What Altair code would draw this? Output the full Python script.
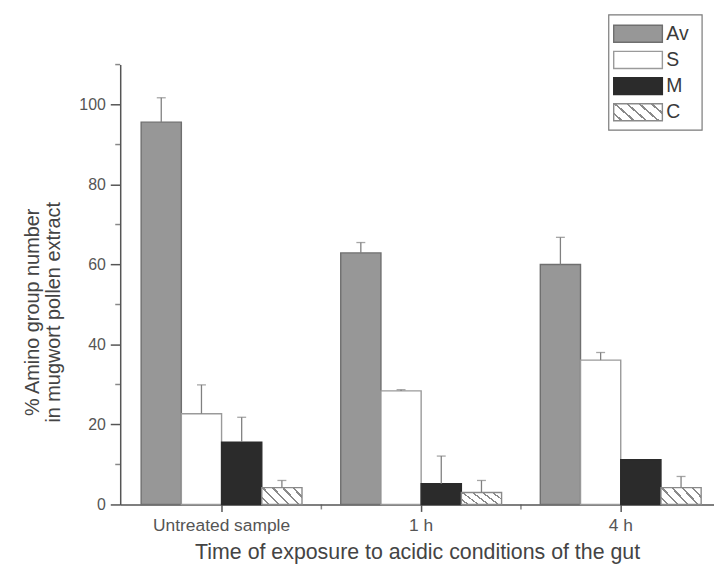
import altair as alt
import pandas as pd

# ---- data ----
groups = ["Untreated sample", "1 h", "4 h"]
series = ["Av", "S", "M", "C"]
av_vals = [95.6, 62.9, 60.0]
av_err = [101.7, 65.5, 66.8]
s_vals = [22.7, 28.4, 36.1]
s_err = [29.9, 28.7, 38.0]
m_vals = [15.6, 5.2, 11.2]
m_err = [21.8, 12.1, 11.2]
c_vals = [4.2, 3.0, 4.2]
c_err = [6.0, 6.0, 7.0]
y_major_ticks = [0, 20, 40, 60, 80, 100]
y_minor_ticks = [10, 30, 50, 70, 90, 110]

values = {"Av": av_vals, "S": s_vals, "M": m_vals, "C": c_vals}
errs = {"Av": av_err, "S": s_err, "M": m_err, "C": c_err}
rows = []
for s in series:
    for g, v, e in zip(groups, values[s], errs[s]):
        rows.append({"group": g, "series": s, "value": v, "err": e})
df = pd.DataFrame(rows)
legend_df = pd.DataFrame({"series": series, "idx": list(range(len(series)))})
bound_df = pd.DataFrame({"group": groups[:-1]})
minor_df = pd.DataFrame({"value": y_minor_ticks})

# ---- styling ----
FONT = "Liberation Sans, Arial, Helvetica, sans-serif"
W, H = 598, 443
AXIS_COL = "#555555"

# diagonal hatch approximated by a hard-stop linear gradient
n_str = 6
frac = 0.22
stops = []
for k in range(n_str):
    a = k / n_str
    b = (k + 1 - frac) / n_str
    c = (k + 1) / n_str
    stops += [
        {"offset": a, "color": "#ffffff"},
        {"offset": b, "color": "#ffffff"},
        {"offset": b, "color": "#8a8a8a"},
        {"offset": c, "color": "#8a8a8a"},
    ]
hatch = {"gradient": "linear", "x1": -0.15, "y1": 0.76, "x2": 1.15, "y2": 0.24,
         "stops": stops}

fill_scale = alt.Scale(domain=series, range=["#979797", "#ffffff", "#2b2b2b", "#ffffff"])
stroke_scale = alt.Scale(domain=series, range=["#6f6f6f", "#9a9a9a", "#2b2b2b", "#8a8a8a"])
fill_enc = alt.condition("datum.series === 'C'", alt.value(hatch),
                         alt.Fill("series:N", scale=fill_scale, legend=None))
stroke_enc = alt.Stroke("series:N", scale=stroke_scale, legend=None)

x_scale = alt.Scale(domain=groups, paddingInner=0.194, paddingOuter=0.0846, align=0.62)
x_axis = alt.Axis(title="Time of exposure to acidic conditions of the gut",
                  labelAngle=0, tickSize=7, labelPadding=5, titlePadding=8,
                  labelFontSize=17.5, titleFontSize=21.5, titleFontWeight="normal",
                  labelColor=AXIS_COL, titleColor="#444444", grid=False,
                  domainColor=AXIS_COL, tickColor=AXIS_COL, domainWidth=1.5, tickWidth=1.5,
                  labelFont=FONT, titleFont=FONT)
x_enc = alt.X("group:N", sort=groups, scale=x_scale, axis=x_axis)
xoff_enc = alt.XOffset("series:N", sort=series, scale=alt.Scale(domain=series, paddingInner=0, paddingOuter=0))

y_axis = alt.Axis(title=["% Amino group number", "in mugwort pollen extract"],
                  values=y_major_ticks, tickSize=10,
                  labelPadding=5, grid=False,
                  labelFontSize=16, titleFontSize=20, titleFontWeight="normal",
                  titleLineHeight=21, titleX=-78, titleY=249,
                  labelColor=AXIS_COL, titleColor="#444444",
                  domainColor=AXIS_COL, tickColor=AXIS_COL, domainWidth=1.5, tickWidth=1.5,
                  labelFont=FONT, titleFont=FONT)
y_scale = alt.Scale(domain=[0, 110], nice=False)
y_enc = alt.Y("value:Q", scale=y_scale, axis=y_axis)

base = alt.Chart(df)

bars = base.mark_bar(strokeWidth=1.4).encode(
    x=x_enc, xOffset=xoff_enc, y=y_enc, fill=fill_enc, stroke=stroke_enc,
)

err_rules = base.transform_filter("datum.err > datum.value").mark_rule(
    color="#808080", strokeWidth=1.3
).encode(x=x_enc, xOffset=xoff_enc, y=y_enc, y2="err:Q")

err_caps = base.transform_filter("datum.err > datum.value").mark_tick(
    color="#808080", thickness=1.3, size=9, orient="horizontal"
).encode(x=x_enc, xOffset=xoff_enc, y=alt.Y("err:Q", scale=y_scale, axis=y_axis))

# minor ticks on the y axis (every 10) and on the x axis between groups
minor_y = alt.Chart(minor_df).mark_tick(
    color=AXIS_COL, thickness=1.5, size=5, orient="horizontal"
).encode(x=alt.value(-2.5), y=y_enc)

minor_x = alt.Chart(bound_df).mark_tick(
    color=AXIS_COL, thickness=1.5, size=5, orient="vertical", xOffset=19.5
).encode(
    x=alt.X("group:N", sort=groups, scale=x_scale, axis=x_axis, bandPosition=1),
    y=alt.value(H + 2.5),
)

plot = alt.layer(bars, err_rules, err_caps, minor_y, minor_x)

# ---- legend box (drawn as marks so the hatched swatch can be shown) ----
leg_box = alt.Chart(pd.DataFrame({"a": [0]})).mark_rect(
    fill="#ffffff", stroke="#7a7a7a", strokeWidth=1.2
).encode(x=alt.value(492), x2=alt.value(586), y=alt.value(-50), y2=alt.value(66))

leg_y = alt.Y("idx:Q", scale=alt.Scale(domain=[0, 3], range=[-31, 48]), axis=None)
leg_sym = alt.Chart(legend_df).mark_point(
    shape="M-1,-0.35L1,-0.35L1,0.35L-1,0.35Z", size=2401, filled=True,
    strokeWidth=1.4, opacity=1
).encode(x=alt.value(521.5), y=leg_y, fill=fill_enc, stroke=stroke_enc)

leg_txt = alt.Chart(legend_df).mark_text(
    align="left", baseline="middle", fontSize=19.5, font=FONT, color="#3a3a3a"
).encode(x=alt.value(550), y=leg_y, text="series:N")

legend_layer = alt.layer(leg_box, leg_sym, leg_txt)

chart = alt.layer(plot, legend_layer).resolve_scale(y="independent").properties(
    width=W, height=H,
    background="#ffffff",
    autosize=alt.AutoSizeParams(type="none"),
    padding={"left": 113, "top": 55, "right": 0, "bottom": 60},
).configure_view(stroke=None).configure_axis(grid=False)

chart.save("out.html", embed_options={"renderer": "svg", "actions": False})
